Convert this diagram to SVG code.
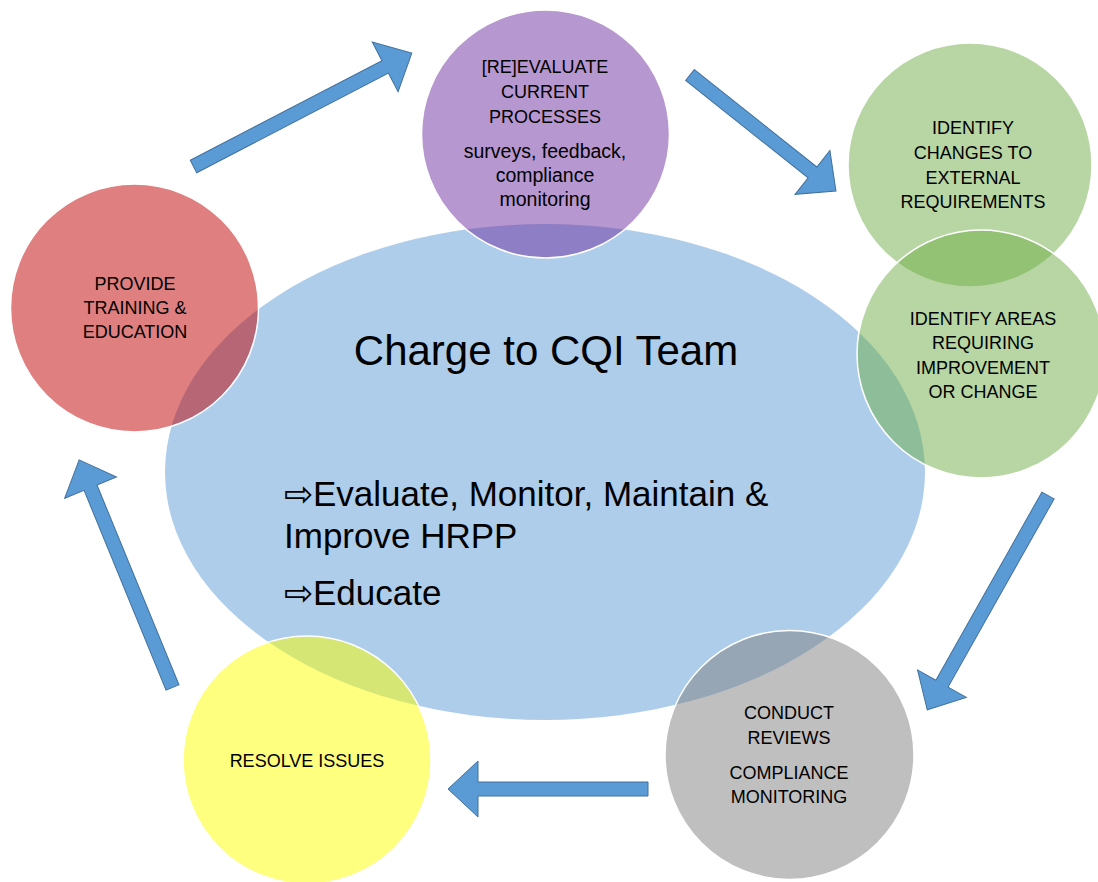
<svg xmlns="http://www.w3.org/2000/svg" width="1098" height="882" viewBox="0 0 1098 882">
<style>
.node{stroke:#ffffff;stroke-width:1.5;fill-opacity:0.5}
.lbl{font-family:"Liberation Sans",Arial,sans-serif;font-size:18px;fill:#000000;text-anchor:middle}
.low{font-size:19.5px}
.arrow{fill:#5B9BD5;stroke:#41719C;stroke-width:1}
.big{font-family:"Liberation Sans",Arial,sans-serif;fill:#000000}
</style>
<rect width="1098" height="882" fill="#ffffff"/>
<g id="center">
<ellipse cx="545" cy="472" rx="380" ry="248" fill="#5B9BD5" fill-opacity="0.5"/>
</g>
<g id="node-reevaluate">
<circle class="node" cx="545.5" cy="134" r="124" fill="#7030A0"/>
<text class="lbl"><tspan x="545" y="73">[RE]EVALUATE</tspan><tspan x="545" y="98">CURRENT</tspan><tspan x="545" y="123">PROCESSES</tspan><tspan class="low" x="545" y="158">surveys, feedback,</tspan><tspan class="low" x="545" y="182">compliance</tspan><tspan class="low" x="545" y="206">monitoring</tspan></text>
</g>
<g id="node-changes">
<circle class="node" cx="970" cy="165" r="122" fill="#70AD47"/>
<text class="lbl"><tspan x="973" y="134">IDENTIFY</tspan><tspan x="973" y="159">CHANGES TO</tspan><tspan x="973" y="184">EXTERNAL</tspan><tspan x="973" y="208">REQUIREMENTS</tspan></text>
</g>
<g id="node-areas">
<circle class="node" cx="981" cy="354" r="124" fill="#70AD47"/>
<text class="lbl"><tspan x="983" y="325">IDENTIFY AREAS</tspan><tspan x="983" y="349">REQUIRING</tspan><tspan x="983" y="374">IMPROVEMENT</tspan><tspan x="983" y="398">OR CHANGE</tspan></text>
</g>
<g id="node-reviews">
<circle class="node" cx="789.5" cy="755" r="124.5" fill="#7F7F7F"/>
<text class="lbl"><tspan x="789" y="719">CONDUCT</tspan><tspan x="789" y="744">REVIEWS</tspan><tspan x="789" y="779">COMPLIANCE</tspan><tspan x="789" y="803">MONITORING</tspan></text>
</g>
<g id="node-resolve">
<circle class="node" cx="307" cy="760" r="124" fill="#FFFF00"/>
<text class="lbl"><tspan x="307" y="767">RESOLVE ISSUES</tspan></text>
</g>
<g id="node-training">
<circle class="node" cx="134.5" cy="308" r="124" fill="#C00000"/>
<text class="lbl"><tspan x="135" y="290">PROVIDE</tspan><tspan x="135" y="314">TRAINING &amp;</tspan><tspan x="135" y="338">EDUCATION</tspan></text>
</g>
<g id="center-text">
<text class="big" x="546" y="365" font-size="42" text-anchor="middle">Charge to CQI Team</text>
<text class="big" font-size="35"><tspan x="284" y="506">⇨Evaluate, Monitor, Maintain &amp;</tspan><tspan x="284" y="548">Improve HRPP</tspan><tspan x="284" y="605">⇨Educate</tspan></text>
</g>
<g id="connectors">
<path class="arrow" transform="translate(193.5,166.5) rotate(-27.45)" d="M0,-7 L216,-7 L216,-28 L246,0 L216,28 L216,7 L0,7 Z"/>
<path class="arrow" transform="translate(690,75) rotate(38.5)" d="M0,-7 L156.5,-7 L156.5,-28 L186.5,0 L156.5,28 L156.5,7 L0,7 Z"/>
<path class="arrow" transform="translate(1048,495.5) rotate(119.4)" d="M0,-7 L216,-7 L216,-28 L246,0 L216,28 L216,7 L0,7 Z"/>
<path class="arrow" transform="translate(648,789) rotate(180)" d="M0,-7 L170,-7 L170,-28 L200,0 L170,28 L170,7 L0,7 Z"/>
<path class="arrow" transform="translate(172.5,687.5) rotate(-112.3)" d="M0,-7 L216,-7 L216,-28 L246,0 L216,28 L216,7 L0,7 Z"/>
</g>
</svg>
